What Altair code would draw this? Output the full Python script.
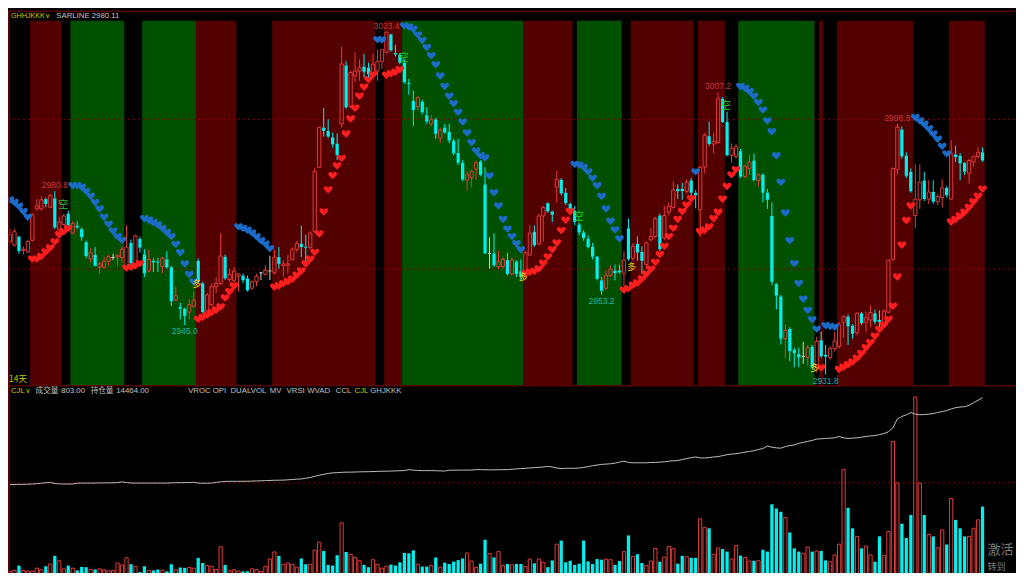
import altair as alt
import pandas as pd
import numpy as np

# ---------------- data ----------------
opens = [
2967.4,2966.4,2968.7,2965.0,2964.6,2967.7,2976.1,2976.1,2978.7,2976.5,
2978.9,2970.5,2971.9,2974.8,2969.6,2971.6,2970.7,2967.2,2962.7,2963.8,
2960.5,2960.5,2962.1,2963.1,2963.3,2963.1,2960.7,2967.0,2961.5,2968.1,
2963.9,2959.5,2962.2,2962.0,2960.7,2962.6,2960.5,2951.7,2949.9,2949.4,
2948.5,2950.1,2962.2,2956.2,2948.8,2950.5,2955.3,2956.2,2963.3,2957.2,
2957.0,2958.1,2958.3,2957.5,2954.9,2956.7,2959.0,2958.6,2959.5,2959.0,
2963.2,2961.0,2961.0,2962.5,2965.3,2966.8,2966.0,2965.8,2970.1,2987.2,
2997.8,2996.9,2995.2,2993.5,2998.8,3014.4,3003.4,3011.6,3012.9,3014.1,
3013.8,3012.5,3012.9,3015.5,3017.9,3022.7,3017.7,3017.3,3015.1,3009.7,
3004.9,3003.4,3004.7,3001.1,2998.8,3000.0,2995.0,2997.8,2996.7,2994.3,
2991.0,2988.4,2983.8,2984.4,2986.7,2988.7,2982.6,2964.2,2964.2,2960.6,
2960.7,2962.4,2958.7,2962.0,2959.4,2958.7,2963.8,2970.0,2966.7,2974.2,
2977.6,2975.4,2981.9,2983.9,2980.4,2977.4,2975.6,2971.9,2969.8,2968.1,
2965.9,2963.3,2957.0,2954.9,2958.3,2959.6,2959.6,2958.9,2970.9,2962.9,
2966.7,2964.6,2961.2,2967.8,2968.7,2974.3,2968.3,2975.2,2976.5,2981.4,
2981.4,2980.8,2983.7,2980.4,2975.9,2987.3,2995.5,2993.4,2993.8,3005.5,
2999.3,2990.4,2990.1,2991.5,2984.7,2986.9,2989.0,2983.7,2985.2,2980.4,
2974.2,2956.0,2952.7,2941.4,2944.0,2938.4,2937.3,2936.7,2936.4,2939.3,
2933.8,2941.0,2937.1,2936.4,2938.8,2939.3,2945.8,2947.3,2944.9,2943.0,
2948.2,2945.8,2946.4,2948.2,2946.4,2945.8,2948.5,2962.6,2986.6,2997.3,
2990.3,2986.0,2974.3,2978.5,2983.7,2978.7,2980.6,2978.0,2979.1,2981.7,
2978.7,2990.6,2990.3,2988.4,2985.6,2988.6,2990.1,2991.2]

closes = [
2969.2,2970.0,2964.8,2965.3,2967.4,2974.5,2976.9,2978.5,2977.4,2979.7,
2971.1,2972.6,2974.2,2971.7,2972.2,2971.1,2968.5,2963.5,2964.4,2960.9,
2961.4,2962.1,2963.3,2963.1,2963.7,2965.3,2965.9,2961.5,2968.9,2965.7,
2958.9,2962.6,2961.8,2961.7,2962.9,2960.5,2951.4,2952.9,2949.4,2947.5,
2950.5,2951.7,2956.6,2948.5,2953.1,2955.3,2956.2,2963.5,2957.5,2958.6,
2959.5,2958.7,2957.0,2954.3,2956.6,2958.1,2959.0,2959.7,2959.5,2963.2,
2961.4,2961.4,2961.4,2965.3,2966.8,2965.9,2965.7,2969.6,2986.1,2997.8,
2996.9,2995.4,2993.3,2990.4,3014.8,3003.2,3012.5,3012.9,3013.8,3012.7,
3012.1,3014.7,3015.5,3018.6,3023.3,3018.4,3017.3,3015.1,3009.9,3009.4,
3002.5,3005.8,3001.9,2999.4,2999.9,2996.1,2997.1,2996.5,2994.3,2990.9,
2988.4,2983.9,2985.2,2986.1,2988.4,2985.2,2964.2,2964.2,2961.0,2962.0,
2962.6,2958.7,2962.4,2958.7,2957.9,2964.4,2969.6,2966.4,2974.2,2976.5,
2975.4,2974.5,2983.9,2980.2,2977.6,2976.1,2972.6,2969.8,2968.3,2965.9,
2963.3,2957.4,2954.2,2958.3,2960.0,2958.9,2959.1,2962.4,2962.6,2966.1,
2964.4,2962.2,2967.0,2968.7,2973.5,2965.3,2974.3,2976.8,2981.1,2980.8,
2980.8,2983.2,2980.4,2979.7,2987.2,2995.8,2993.4,2994.1,3005.5,2999.3,
2990.4,2992.3,2992.7,2984.7,2987.5,2988.6,2983.8,2985.2,2980.4,2978.5,
2956.6,2952.9,2941.4,2943.6,2938.1,2937.5,2936.4,2936.7,2939.0,2933.8,
2940.7,2936.7,2936.6,2938.8,2940.8,2945.3,2947.3,2944.7,2942.7,2948.2,
2945.6,2947.0,2948.4,2945.9,2945.9,2948.8,2962.4,2986.9,2997.9,2990.1,
2984.9,2980.8,2978.7,2983.2,2978.7,2980.6,2978.0,2979.4,2981.7,2979.7,
2990.8,2989.9,2988.2,2986.0,2989.0,2990.1,2991.2,2989.0]

highs = [
2970.7,2970.7,2968.9,2966.1,2967.9,2974.9,2978.7,2979.5,2979.1,2980.0,
2980.8,2973.9,2974.8,2975.6,2972.8,2972.8,2971.1,2967.6,2965.7,2965.9,
2961.8,2963.3,2963.8,2964.1,2964.0,2966.1,2971.7,2967.9,2969.2,2968.7,
2965.3,2965.3,2962.9,2962.9,2963.3,2964.8,2960.9,2955.3,2951.0,2949.7,
2952.0,2954.0,2962.9,2956.6,2953.6,2956.2,2957.9,2969.6,2963.9,2960.1,
2960.5,2958.9,2958.8,2958.3,2957.0,2958.8,2959.3,2961.0,2963.6,2965.1,
2965.9,2962.3,2963.8,2965.8,2967.5,2971.6,2969.2,2970.1,2987.0,2998.0,
3003.0,3000.0,2996.5,2996.2,3019.4,3015.5,3013.0,3017.9,3016.0,3017.5,
3015.1,3017.5,3018.6,3018.7,3023.4,3022.9,3019.9,3017.7,3016.1,3010.8,
3007.7,3006.3,3005.2,3003.2,3001.2,3000.4,2997.8,2998.7,2998.8,2994.8,
2994.8,2989.1,2986.1,2986.5,2988.9,2989.1,2987.2,2968.5,2969.6,2964.9,
2963.1,2964.4,2963.1,2962.4,2962.6,2964.8,2971.6,2971.7,2974.8,2976.9,
2977.8,2975.6,2986.3,2984.3,2981.7,2977.8,2976.9,2972.4,2970.4,2969.0,
2967.0,2963.5,2957.9,2959.6,2960.9,2961.2,2961.2,2964.8,2973.5,2966.9,
2968.7,2966.1,2967.4,2971.0,2973.9,2974.8,2976.9,2977.8,2983.4,2982.6,
2983.0,2983.9,2984.3,2981.1,2987.5,2996.4,2999.4,2996.4,3007.2,3005.9,
3002.0,2993.6,2993.4,2992.1,2988.0,2990.6,2990.8,2985.6,2985.6,2981.4,
2977.8,2956.3,2953.1,2945.3,2944.5,2939.0,2939.0,2940.6,2939.7,2939.7,
2941.9,2943.3,2939.7,2939.3,2943.2,2945.8,2947.7,2947.9,2945.3,2948.5,
2948.5,2948.5,2950.3,2949.2,2949.0,2949.2,2962.6,2987.1,2998.8,2998.1,
2991.2,2986.9,2988.0,2988.0,2986.0,2983.7,2983.7,2980.0,2984.0,2982.1,
2994.4,2993.0,2991.0,2988.6,2989.5,2990.3,2992.5,2992.5]

lows = [
2967.0,2966.0,2964.1,2963.9,2964.3,2967.4,2975.6,2975.6,2976.5,2976.3,
2970.7,2970.0,2971.7,2971.3,2969.3,2970.7,2967.6,2962.9,2961.8,2960.7,
2958.8,2960.1,2960.9,2962.4,2960.9,2961.8,2960.1,2960.5,2960.9,2964.4,
2957.9,2959.2,2959.2,2959.2,2958.9,2960.1,2950.1,2951.4,2946.6,2945.0,
2946.6,2949.7,2956.2,2948.2,2948.4,2950.1,2953.6,2955.7,2957.1,2956.6,
2956.2,2954.0,2956.2,2954.0,2954.4,2955.4,2957.1,2958.4,2957.1,2958.6,
2960.1,2958.0,2958.8,2962.3,2964.5,2963.2,2961.9,2965.3,2969.7,2987.0,
2995.4,2995.0,2992.4,2989.1,2997.8,3002.8,3003.0,3009.9,3010.3,3011.2,
3010.3,3012.1,3010.3,3013.4,3017.7,3018.1,3016.8,3014.7,3009.5,3006.6,
2998.2,3002.3,3001.3,2998.8,2998.2,2994.8,2993.6,2996.1,2993.6,2990.4,
2987.8,2983.5,2980.9,2981.8,2983.9,2984.8,2964.0,2960.1,2960.6,2960.0,
2960.1,2958.3,2958.3,2957.9,2957.0,2958.3,2963.5,2965.9,2966.4,2967.4,
2975.0,2972.6,2977.8,2979.7,2977.1,2975.2,2971.7,2969.1,2967.6,2965.5,
2962.6,2957.0,2953.2,2954.4,2957.9,2957.0,2958.8,2955.3,2962.2,2962.2,
2962.2,2958.7,2960.0,2967.4,2968.3,2964.8,2967.8,2974.3,2976.1,2978.7,
2978.5,2980.2,2979.5,2976.2,2968.7,2985.6,2992.9,2990.9,2993.4,2999.0,
2990.1,2988.4,2989.5,2984.3,2984.3,2985.1,2983.4,2982.1,2977.8,2976.1,
2955.7,2949.2,2939.9,2936.2,2935.4,2933.8,2933.8,2934.7,2934.3,2933.2,
2932.4,2936.2,2931.8,2935.8,2938.0,2938.8,2941.6,2939.7,2941.4,2942.3,
2945.1,2943.2,2944.5,2945.3,2943.6,2945.3,2948.2,2962.2,2985.1,2989.5,
2984.3,2980.4,2971.0,2976.1,2978.2,2977.4,2977.4,2977.1,2976.5,2979.1,
2978.5,2988.6,2983.7,2985.1,2982.8,2987.3,2989.5,2988.6]

sar = [
2978.5,2977.8,2976.8,2975.4,2973.9,
2962.7,2962.7,2963.4,2964.6,2965.7,2967.3,2969.2,2970.0,2970.9,
2982.3,2982.3,2981.9,2980.8,2979.5,2977.8,2976.1,2973.9,2972.0,2970.2,2968.7,2967.7,
2960.3,2960.5,2960.9,2961.5,
2973.5,2973.1,2972.4,2971.8,2970.9,2969.8,2968.7,2966.6,2964.4,2961.4,2958.6,2956.6,
2946.6,2947.1,2947.7,2948.4,2949.1,2949.9,2952.3,2954.0,2955.5,
2971.3,2970.9,2970.4,2969.7,2968.7,2967.6,2966.7,2965.5,
2955.2,2955.5,2956.1,2956.7,2957.3,2958.4,2959.5,2961.4,2962.7,2964.5,2969.4,2975.3,
2981.2,2985.0,2987.6,2989.6,2996.1,3000.1,3003.0,3006.2,3008.6,3010.6,3011.9,
3021.3,3021.2,
3011.8,3012.2,3012.6,3013.3,
3025.0,3024.7,3024.1,3022.6,3021.1,3019.2,3017.0,3014.6,3011.6,3008.8,3006.2,3004.2,
3001.9,2999.3,2996.4,2993.8,2991.6,2990.3,2989.7,2984.9,2980.4,2976.9,2973.3,2970.7,
2968.7,2966.8,2965.2,
2958.8,2959.2,2959.4,2960.1,2961.6,2963.3,2965.2,2967.0,2970.3,2973.1,2975.4,
2988.0,2987.8,2987.2,2986.0,2984.3,2982.3,2979.4,2976.1,2972.8,2970.5,2968.1,
2954.4,2954.8,2955.7,2956.3,2957.4,2958.7,2960.0,2961.8,2963.9,2966.1,2968.7,2970.9,
2973.3,2975.4,2977.1,2978.8,
2986.0,
2970.0,2970.4,2971.3,2973.5,2975.2,2978.7,2982.1,2985.2,2986.6,
3008.8,3008.3,3007.4,3006.2,3004.5,3002.5,2999.6,2996.7,2990.3,2983.2,
2975.0,2967.6,2961.5,2956.2,2952.0,2949.0,2946.5,2944.0,
2933.6,
2944.9,2944.7,2944.5,
2933.2,2933.8,2934.5,2935.2,2936.2,2937.5,2939.0,2940.4,2942.1,2943.9,2945.1,2946.6,
2950.1,2957.9,2966.4,2973.0,2976.9,
3000.5,2999.6,2998.7,2997.5,2996.1,2994.7,2992.8,2990.8,
2972.6,2973.3,2974.2,2975.2,2976.5,2978.0,2979.5,2981.4]

volume = [
27,39,97,39,31,31,66,47,89,116,
213,155,58,97,66,39,81,78,50,50,
58,47,35,39,128,105,190,113,89,19,
89,39,39,50,43,27,113,47,74,70,
74,66,190,128,97,89,50,322,105,35,
47,31,27,27,58,50,27,89,175,260,
213,113,128,113,78,182,113,113,283,376,
272,105,97,221,609,260,233,194,155,105,
78,167,113,66,89,109,97,136,248,244,
279,113,85,85,97,194,78,132,116,144,
163,182,248,151,74,120,407,241,194,264,
97,116,105,116,116,85,175,124,175,136,
78,159,353,396,136,155,105,120,396,147,
116,175,167,175,167,105,151,264,458,206,
233,128,97,151,303,144,198,326,299,120,
213,202,190,190,656,551,543,233,307,295,
264,175,338,217,194,151,155,155,287,264,
830,780,741,671,493,303,264,244,318,264,
272,272,159,144,225,353,1249,788,543,446,
303,330,225,144,446,217,504,1583,1086,598,
427,702,2115,1086,702,469,446,310,524,349,
900,644,543,446,446,543,644,803]

open_interest = [
11785,11785,11790,11790,11795,11800,11810,11825,11840,11850,
11815,11805,11800,11800,11800,11825,11830,11830,11830,11830,
11835,11835,11835,11836,11845,11865,11845,11830,11830,11830,
11830,11830,11830,11830,11830,11830,11836,11840,11840,11845,
11845,11855,11830,11825,11825,11830,11850,11866,11880,11884,
11884,11884,11884,11886,11890,11895,11900,11905,11910,11915,
11918,11920,11930,11938,11950,11956,11980,12000,12040,12070,
12100,12125,12145,12150,12160,12166,12166,12170,12175,12178,
12180,12185,12190,12195,12196,12200,12205,12210,12214,12244,
12230,12218,12214,12214,12214,12210,12205,12200,12225,12228,
12228,12230,12230,12232,12244,12244,12240,12235,12238,12240,
12242,12244,12255,12265,12275,12285,12295,12305,12315,12325,
12345,12325,12295,12275,12285,12285,12285,12295,12315,12335,
12365,12385,12405,12415,12425,12445,12475,12505,12465,12455,
12455,12455,12455,12465,12465,12475,12485,12505,12515,12525,
12555,12585,12615,12635,12605,12605,12615,12635,12645,12675,
12705,12725,12735,12755,12785,12805,12825,12865,12895,12975,
12935,12915,12905,12955,12985,13005,13055,13085,13115,13145,
13185,13195,13205,13215,13225,13265,13225,13205,13215,13225,
13245,13265,13285,13295,13325,13355,13415,13535,13805,13885,
13935,14005,13955,13935,13945,13955,13975,14005,14035,14065,
14115,14155,14175,14185,14225,14305,14385,14464]

# background bands (first and last candle index of each band)
band_start = [5, 14, 30, 42, 59, 84, 88, 115, 127, 139, 154, 163, 181, 185, 210]
band_end   = [11, 25, 41, 50, 81, 87, 114, 125, 136, 152, 159, 179, 181, 201, 217]
band_kind  = ["red","green","green","red","red","red","green","red","green",
              "red","red","green","red","red","red"]

hi_label_idx = [10, 84, 158, 198]
hi_label_val = [2980.8, 3023.4, 3007.2, 2998.8]
lo_label_idx = [39, 132, 182]
lo_label_val = [2945.0, 2953.2, 2931.8]

kong_idx = [11.9, 87.8, 126.9, 159.7]
kong_price = [2977.0, 3016.4, 2973.9, 3003.6]
duo_idx = [41.7, 114.5, 138.7, 179.5]
duo_price = [2956.0, 2957.9, 2960.5, 2933.6]

price_grid = [3000, 2960]
vol_grid = [1087]

# ---------------- layout helpers (reference px -> chart px) ----------------
W, H = 1008, 565
FX, FY = W / 1024.0, H / 581.0
def sx(x): return x * FX
def sy(y): return y * FY
def ref_price_y(p): return 114.5 + (3000.0 - p) * 3.85
def ref_vol_y(v): return 581.7 - v / 11.64
def ref_oi_y(v): return 400.7 + (14464.0 - v) / 30.0

XS = alt.Scale(domain=[0, 217], range=[sx(2.0), sx(2.0 + 4.553 * 217)], zero=False, nice=False)
PS = alt.Scale(domain=[2930, 3030], range=[sy(ref_price_y(2930)), sy(ref_price_y(3030))], zero=False, nice=False)
VS = alt.Scale(domain=[0, 2200], range=[sy(ref_vol_y(0)), sy(ref_vol_y(2200))], zero=False, nice=False)
OS = alt.Scale(domain=[11000, 15000], range=[sy(ref_oi_y(11000)), sy(ref_oi_y(15000))], zero=False, nice=False)

RED = "#e23a3a"
CYAN = "#00f0f0"
DOJI = "#d0d0d0"
FRAME = "#7a0000"
HALF = 0.36

# ---------------- frames ----------------
df = pd.DataFrame({"i": range(len(opens)), "o": opens, "c": closes, "h": highs,
                   "l": lows, "vol": volume, "oi": open_interest, "sar": sar})
df["top"] = df[["o", "c"]].max(axis=1)
df["bot"] = df[["o", "c"]].min(axis=1)
df["kind"] = np.where(df.c > df.o, "up", np.where(df.c < df.o, "down", "doji"))
df["x0"] = df.i - HALF
df["x1"] = df.i + HALF
df["side"] = np.where(df.sar > df.c, "short", "long")
df["zero"] = 0

bands = pd.DataFrame({"s": band_start, "e": band_end, "k": band_kind})
bands["x0"] = bands.s - 0.5
bands["x1"] = bands.e + 0.5

kind_color = alt.Color("kind:N", scale=alt.Scale(domain=["up", "down", "doji"], range=[RED, CYAN, DOJI]), legend=None)

def X(f): return alt.X(f, type="quantitative", scale=XS, axis=None)
def YP(f): return alt.Y(f, type="quantitative", scale=PS, axis=None)

layers = []

# bands
layers.append(alt.Chart(bands).mark_rect().encode(
    x=X("x0"), x2="x1", y=alt.value(sy(13)), y2=alt.value(sy(388)),
    color=alt.Color("k:N", scale=alt.Scale(domain=["red", "green"], range=["#530000", "#005000"]), legend=None)))

# price grid
layers.append(alt.Chart(pd.DataFrame({"p": price_grid})).mark_rule(
    color="#8a0000", strokeDash=[2, 3], strokeWidth=1).encode(
    y=YP("p"), x=alt.value(0), x2=alt.value(W)))

# wicks
layers.append(alt.Chart(df).mark_rule(strokeWidth=1).encode(x=X("i"), y=YP("h"), y2="top", color=kind_color))
layers.append(alt.Chart(df).mark_rule(strokeWidth=1).encode(x=X("i"), y=YP("bot"), y2="l", color=kind_color))

# bodies
layers.append(alt.Chart(df).transform_filter("datum.kind == 'up'").mark_rect(
    fillOpacity=0, stroke=RED, strokeWidth=1).encode(x=X("x0"), x2="x1", y=YP("top"), y2="bot"))
layers.append(alt.Chart(df).transform_filter("datum.kind == 'down'").mark_rect(
    color=CYAN).encode(x=X("x0"), x2="x1", y=YP("top"), y2="bot"))
layers.append(alt.Chart(df).transform_filter("datum.kind == 'doji'").mark_rule(
    color=DOJI, strokeWidth=1).encode(x=X("x0"), x2="x1", y=YP("c")))

# SAR hearts
HEART = ("M0,0.9 L-0.85,0.05 C-1.15,-0.25 -1.05,-0.85 -0.55,-0.85 C-0.25,-0.85 -0.05,-0.6 0,-0.45 "
         "C0.05,-0.6 0.25,-0.85 0.55,-0.85 C1.05,-0.85 1.15,-0.25 0.85,0.05 Z")
layers.append(alt.Chart(df).mark_point(shape=HEART, filled=True, size=72, opacity=1, strokeWidth=0).encode(
    x=X("i"), y=YP("sar"),
    color=alt.Color("side:N", scale=alt.Scale(domain=["short", "long"], range=["#1a6cc8", "#ff1e1e"]), legend=None)))

# high / low labels
layers.append(alt.Chart(pd.DataFrame({"i": hi_label_idx, "v": hi_label_val})).mark_text(
    baseline="bottom", dy=-1, fontSize=8.5, font="Liberation Sans", color="#c83c3c").encode(
    x=X("i"), y=YP("v"), text=alt.Text("v:Q", format=".1f")))
layers.append(alt.Chart(pd.DataFrame({"i": lo_label_idx, "v": lo_label_val})).mark_text(
    baseline="top", dy=2, fontSize=8.5, font="Liberation Sans", color="#1eb4aa").encode(
    x=X("i"), y=YP("v"), text=alt.Text("v:Q", format=".1f")))

# 空 / 多 signals
layers.append(alt.Chart(pd.DataFrame({"i": kong_idx, "p": kong_price, "t": ["空"] * len(kong_idx)})).mark_text(
    fontSize=10, font="Noto Sans CJK SC", color="#22d022", baseline="middle").encode(
    x=X("i"), y=YP("p"), text="t:N"))
layers.append(alt.Chart(pd.DataFrame({"i": duo_idx, "p": duo_price, "t": ["多"] * len(duo_idx)})).mark_text(
    fontSize=9, font="Noto Sans CJK SC", color="#e8d000", baseline="middle").encode(
    x=X("i"), y=YP("p"), text="t:N"))

# volume panel
layers.append(alt.Chart(pd.DataFrame({"v": vol_grid})).mark_rule(
    color="#8a0000", strokeDash=[2, 3], strokeWidth=1).encode(
    y=alt.Y("v:Q", scale=VS, axis=None), x=alt.value(0), x2=alt.value(W)))
layers.append(alt.Chart(df).transform_filter("datum.kind != 'down'").mark_rect(
    fillOpacity=0, stroke=RED, strokeWidth=1).encode(
    x=X("x0"), x2="x1", y=alt.Y("vol:Q", scale=VS, axis=None), y2="zero"))
layers.append(alt.Chart(df).transform_filter("datum.kind == 'down'").mark_rect(color=CYAN).encode(
    x=X("x0"), x2="x1", y=alt.Y("vol:Q", scale=VS, axis=None), y2="zero"))
layers.append(alt.Chart(df).mark_line(color="#bdbdbd", strokeWidth=1).encode(
    x=X("i"), y=alt.Y("oi:Q", scale=OS, axis=None)))

# frame lines
one = pd.DataFrame({"a": [0]})
def hline(yref):
    return alt.Chart(one).mark_rule(color=FRAME, strokeWidth=1).encode(
        x=alt.value(0), x2=alt.value(W), y=alt.value(sy(yref)))
layers.append(hline(3.3))
layers.append(hline(388.5))
layers.append(alt.Chart(one).mark_rule(color=FRAME, strokeWidth=1.5).encode(
    x=alt.value(1), y=alt.value(sy(3)), y2=alt.value(H)))

# header texts
def label(txt, xref, yref, color, size=7.8, font="Liberation Sans"):
    return alt.Chart(pd.DataFrame({"t": [txt]})).mark_text(
        align="left", baseline="middle", fontSize=size, font=font, color=color).encode(
        x=alt.value(sx(xref)), y=alt.value(sy(yref)), text="t:N")

YEL = "#c8c800"
GRY = "#c0c0c0"
layers += [
    label("GHHJKKK", 3, 8.5, YEL, 7.2),
    label("∨", 37.5, 8.5, YEL, 7, "DejaVu Sans"),
    label("SARLINE 2980.11", 49, 8.5, GRY, 7.8),
    label("14天", 1, 381, YEL, 8.5, "Noto Sans CJK SC"),
    label("CJL", 3, 393.5, YEL, 7.8),
    label("∨", 17.5, 393.5, YEL, 7, "DejaVu Sans"),
    label("成交量", 28, 393.5, GRY, 7.6, "Noto Sans CJK SC"),
    label("803.00", 54, 393.5, GRY),
    label("持仓量", 84, 393.5, GRY, 7.6, "Noto Sans CJK SC"),
    label("14464.00", 110, 393.5, GRY),
    label("VROC", 183, 393.5, GRY),
    label("OPI", 208, 393.5, GRY),
    label("DUALVOL", 226, 393.5, GRY),
    label("MV", 266, 393.5, GRY),
    label("VRSI", 283, 393.5, GRY),
    label("WVAD", 304, 393.5, GRY),
    label("CCL", 333, 393.5, GRY),
    label("CJL", 352, 393.5, YEL),
    label("GHJKKK", 368, 393.5, GRY),
    label("激活", 995, 557, "#7c7c7c", 13, "Noto Sans CJK SC"),
    label("转到", 995, 575, "#7c7c7c", 9, "Noto Sans CJK SC"),
]

chart = alt.layer(*layers).resolve_scale(y="independent", color="independent").properties(
    width=W, height=H, padding=0, autosize="none", background="black"
).configure_view(strokeWidth=0)

chart.save("out.html", embed_options={"renderer": "svg", "actions": False})
